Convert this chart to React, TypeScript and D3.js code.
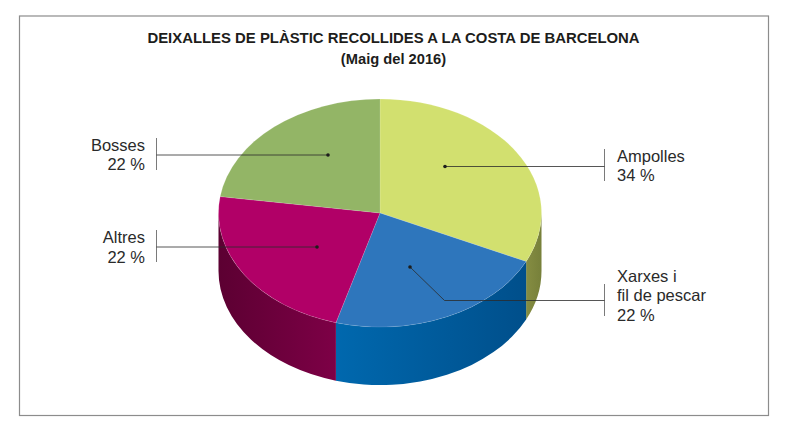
import * as d3 from "d3";

const categories = ["Ampolles", "Xarxes", "Altres", "Bosses"];
// slice sizes as they are drawn in the picture (the printed labels are rounded differently)
const drawnShares = [32, 22.4, 22.9, 22.7];
const percentLabels = ["34 %", "22 %", "22 %", "22 %"];
const titleLines = ["DEIXALLES DE PLÀSTIC RECOLLIDES A LA COSTA DE BARCELONA", "(Maig del 2016)"];
const topColors = ["#d2e06f", "#2e76bc", "#b10067", "#93b566"];
const wallFrom = ["#858d42", "#0068ae", "#5c0032", "#93b566"];
const wallTo = ["#77803a", "#004f8b", "#7d0046", "#93b566"];

const cx = 380;
const cy = 213;
const rx = 161.5;
const ry = 114;
const depth = 58;
const HALF = Math.PI / 2;

const pie = d3.pie<number>().sort(null)(drawnShares);
const arc = d3.arc<d3.PieArcDatum<number>>().innerRadius(0).outerRadius(rx);

const pt = (a: number, dy = 0): [number, number] => [
  cx + rx * Math.sin(a),
  cy - ry * Math.cos(a) + dy,
];

// side wall of a slice, only the part that faces the viewer (90deg to 270deg)
function wallPath(start: number, end: number) {
  const a0 = Math.max(start, HALF);
  const a1 = Math.min(end, 3 * HALF);
  if (a1 <= a0) return null;
  const [x0, y0] = pt(a0);
  const [x1, y1] = pt(a1);
  const large = a1 - a0 > Math.PI ? 1 : 0;
  return `M${x0},${y0}A${rx},${ry} 0 ${large} 1 ${x1},${y1}L${x1},${y1 + depth}A${rx},${ry} 0 ${large} 0 ${x0},${y0 + depth}Z`;
}

const leaders = [
  { bar: [604.5, 149, 181], path: [[604.5, 166.5], [445, 166.5]] },
  { bar: [604.5, 284, 316], path: [[604.5, 300.5], [444.5, 300.5], [410, 267]] },
  { bar: [156.5, 230, 262], path: [[156.5, 247], [317, 247]] },
  { bar: [156.5, 138, 170], path: [[156.5, 155], [328, 155]] },
];

const labelBlocks = [
  { x: 617, anchor: "start", lines: [categories[0], percentLabels[0]], ys: [162, 181] },
  { x: 617, anchor: "start", lines: ["Xarxes i", "fil de pescar", percentLabels[1]], ys: [282, 301, 321] },
  { x: 145, anchor: "end", lines: [categories[2], percentLabels[2]], ys: [243, 263] },
  { x: 145, anchor: "end", lines: [categories[3], percentLabels[3]], ys: [151, 170] },
];

const lineGen = d3.line();

export default function App() {
  return (
    <svg
      width={788}
      height={429}
      style={{ position: "absolute", left: 0, top: 0, background: "#fff" }}
      fontFamily="'Liberation Sans', Arial, sans-serif"
    >
      <defs>
        {pie.map((d, i) => {
          const a0 = Math.max(d.startAngle, HALF);
          const a1 = Math.min(d.endAngle, 3 * HALF);
          // the wall's left edge is at the larger angle
          const xs = [pt(a0)[0], pt(a1)[0]];
          return (
            <linearGradient
              key={i}
              id={`wall${i}`}
              gradientUnits="userSpaceOnUse"
              x1={d3.min(xs)}
              x2={d3.max(xs)}
              y1={0}
              y2={0}
            >
              <stop offset="0" stopColor={wallFrom[i]} />
              <stop offset="1" stopColor={wallTo[i]} />
            </linearGradient>
          );
        })}
      </defs>

      <rect x={19.5} y={16} width={749} height={399.5} fill="#fff" stroke="#8c8c8c" strokeWidth={1.2} />

      <g textAnchor="middle" fontWeight="bold" fill="#1d1d1b">
        <text x={393.5} y={43} fontSize={14.9}>{titleLines[0]}</text>
        <text x={393.5} y={63.5} fontSize={14.7}>{titleLines[1]}</text>
      </g>

      {pie.map((d, i) => {
        const p = wallPath(d.startAngle, d.endAngle);
        return p ? <path key={i} d={p} fill={`url(#wall${i})`} /> : null;
      })}

      <g transform={`translate(${cx},${cy}) scale(1,${ry / rx})`}>
        {pie.map((d, i) => (
          <path key={i} d={arc(d) as string} fill={topColors[i]} stroke="#ffffff" strokeOpacity={0.25} strokeWidth={0.6} />
        ))}
      </g>

      {leaders.map((l, i) => {
        const end = l.path[l.path.length - 1];
        return (
          <g key={i}>
            <line x1={l.bar[0]} x2={l.bar[0]} y1={l.bar[1]} y2={l.bar[2]} stroke="#7a7a7a" strokeWidth={1} />
            <path d={lineGen(l.path as [number, number][]) as string} fill="none" stroke="#2b2b2b" strokeWidth={0.8} />
            <circle cx={end[0]} cy={end[1]} r={1.8} fill="#1d1d1b" />
          </g>
        );
      })}

      <g fontSize={16.5} fill="#2a2a2a">
        {labelBlocks.map((b, i) => (
          <text key={i} textAnchor={b.anchor as "start" | "end"}>
            {b.lines.map((t, j) => (
              <tspan key={j} x={b.x} y={b.ys[j]}>{t}</tspan>
            ))}
          </text>
        ))}
      </g>
    </svg>
  );
}
